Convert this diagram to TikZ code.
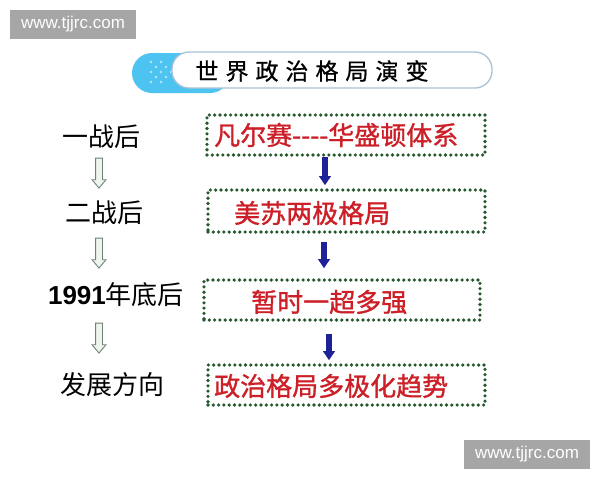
\documentclass[tikz,border=0pt]{standalone}
\usepackage{fontspec}
\newfontfamily\cjk{Noto Sans CJK SC}
\newfontfamily\cjkb[FakeBold=1.2]{Noto Sans CJK SC}
\newfontfamily\cjkt[FakeBold=0.8]{Noto Sans CJK SC}
\newfontfamily\lsans{Liberation Sans}
\usetikzlibrary{shapes.arrows,arrows.meta}
\definecolor{wmgray}{HTML}{A6A6A6}
\definecolor{redtxt}{HTML}{CC1F27}
\definecolor{dotgreen}{HTML}{25582D}
\definecolor{navy}{HTML}{1E2296}
\definecolor{pillblue}{HTML}{4CC3F1}
\definecolor{titleedge}{HTML}{A8C2D4}
\definecolor{harrline}{HTML}{6F8176}
\definecolor{harrfill}{HTML}{EEF5EF}
\tikzset{
  wmbox/.style={fill=wmgray, inner sep=0pt, text=white, font=\lsans\fontsize{17}{17}\selectfont},
  dotbox/.style={draw=dotgreen, line width=3.6pt, dash pattern=on 0pt off 5.3pt, line cap=round, inner sep=0pt},
  boxtxt/.style={text=redtxt, font=\cjkb\fontsize{26}{26}\selectfont, inner sep=0pt, anchor=west},
  lefttxt/.style={text=black, font=\cjk\fontsize{26}{26}\selectfont, inner sep=0pt},
  bluearr/.style={draw=navy, line width=5.5pt, -{Triangle[width=11.5pt,length=9pt]}},
  hollowarr/.style={single arrow, draw=harrline, fill=harrfill, line width=0.9pt, minimum height=30pt, single arrow head extend=3.5pt, single arrow tip angle=80, inner sep=3pt, text width=0pt, text height=0pt, text depth=0pt, rotate=-90}
}
\begin{document}
\begin{tikzpicture}[x=1pt,y=-1pt]
\useasboundingbox (0,0) rectangle (600,480);
\fill[white] (0,0) rectangle (600,480);
% watermarks
\node[wmbox, minimum width=126pt, minimum height=29pt] (wm1) at (73,24.5) {www.tjjrc.com};
\node[wmbox, minimum width=126pt, minimum height=29pt] (wm2) at (527,454.5) {www.tjjrc.com};
% title banner
\fill[pillblue, rounded corners=20pt] (132,53) rectangle (230,93);
\foreach \p in {(151,72),(156,67),(156,77),(161,62),(161,72),(161,82),(166,67),(166,77),(171,72),(151,62),(151,82)}
  \fill[white, opacity=0.6] \p circle (1.4pt);
\filldraw[fill=white, draw=titleedge, line width=1.3pt, rounded corners=17pt] (172,52) rectangle (492,88);
\node[inner sep=0pt, font=\cjkt\fontsize{23}{23}\selectfont] (title) at (312,71) {世\kern7pt 界\kern7pt 政\kern7pt 治\kern7pt 格\kern7pt 局\kern7pt 演\kern7pt 变};
% left column
\node[lefttxt] (l1) at (101,137) {一战后};
\node[lefttxt] (l2) at (104,213) {二战后};
\node[lefttxt] (l3) at (116,295) {{\lsans\bfseries 1991}年底后};
\node[lefttxt] (l4) at (112,385) {发展方向};
\node[hollowarr] (h1) at (99,171) {};
\node[hollowarr] (h2) at (99,251) {};
\node[hollowarr] (h3) at (99,336) {};
% dotted boxes
\node[dotbox, minimum width=278pt, minimum height=40pt] (b1) at (346,135) {};
\node[dotbox, minimum width=277pt, minimum height=42pt] (b2) at (346.5,211) {};
\node[dotbox, minimum width=276pt, minimum height=40pt] (b3) at (342,300) {};
\node[dotbox, minimum width=277pt, minimum height=40pt] (b4) at (346.5,385) {};
\node[boxtxt] (t1) at (214,135) {凡尔赛----华盛顿体系};
\node[boxtxt] (t2) at (234,213) {美苏两极格局};
\node[boxtxt] (t3) at (251,302) {暂时一超多强};
\node[boxtxt] (t4) at (214,386) {政治格局多极化趋势};
% blue arrows
\coordinate (a1) at (325,0);
\coordinate (a2) at (324,0);
\coordinate (a3) at (329,0);
\draw[bluearr, shorten >=3pt] (b1.south -| a1) -- (b2.north -| a1);
\draw[bluearr, shorten <=8pt, shorten >=10pt] (b2.south -| a2) -- (b3.north -| a2);
\draw[bluearr, shorten <=12pt, shorten >=3pt] (b3.south -| a3) -- (b4.north -| a3);
\end{tikzpicture}
\end{document}
